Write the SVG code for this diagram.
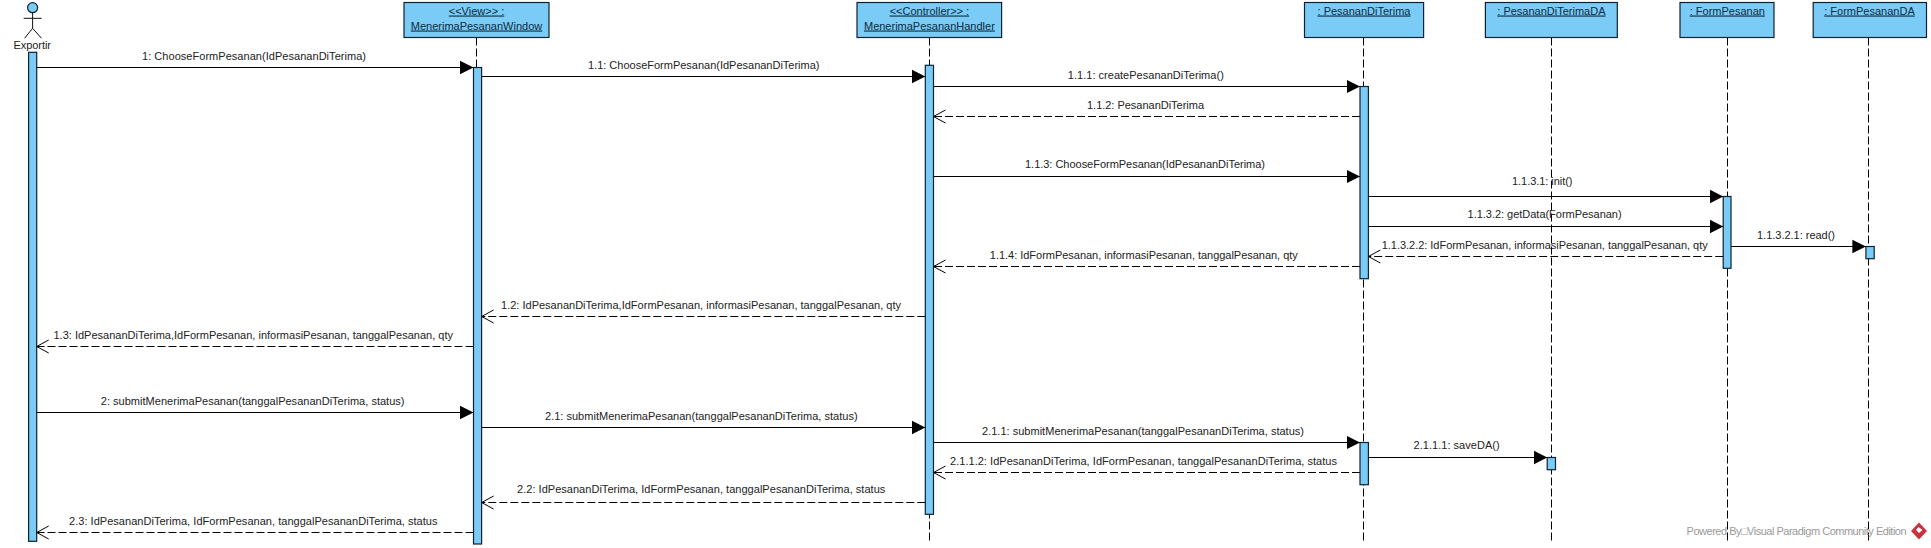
<svg xmlns="http://www.w3.org/2000/svg" width="1931" height="548" viewBox="0 0 1931 548">
<style>
text{font-family:"Liberation Sans",Arial,sans-serif;font-size:11px;fill:#222}
.hd{fill:#0e2a3c;text-decoration:underline;text-anchor:middle}
.box,.act{fill:#7accf6;stroke:#0c2233;stroke-width:1.2}
.life{stroke:#000;stroke-width:1;stroke-dasharray:8 3;fill:none}
.msg{stroke:#000;stroke-width:1;fill:none;marker-end:url(#solid)}
.ret{stroke:#000;stroke-width:1;fill:none;stroke-dasharray:8 3;marker-end:url(#open)}
.wm{fill:#9a9a9a}
</style>
<defs>
<marker id="solid" markerUnits="userSpaceOnUse" markerWidth="14" markerHeight="15" refX="13.500" refY="7.500" orient="auto"><path d="M0 .7L13.500 7.500L0 14.300z" fill="#000"/></marker>
<marker id="open" markerUnits="userSpaceOnUse" markerWidth="14" markerHeight="16" refX="12.500" refY="8" orient="auto"><path d="M.5 1.500L12.500 8L.5 14.500" fill="none" stroke="#000" stroke-width="1"/></marker>
</defs>
<rect width="1931" height="548" fill="#fff"/>
<g id="node-exportir">
<circle cx="32.600" cy="7.700" r="5" class="box"/>
<path d="M32.600 12.700V28.300M23.700 18.300H41.600M24.500 38.300L32.600 28.300L41.500 38.300" fill="none" stroke="#111" stroke-width="1"/>
<text x="13.500" y="49" textLength="37.500">Exportir</text>
<rect x="28.600" y="52.300" width="8.100" height="489" class="act"/>
</g>
<g id="node-view">
<line x1="476.500" y1="37.500" x2="476.500" y2="67" class="life"/>
<rect x="404" y="2.500" width="145" height="35" class="box"/>
<text x="476.500" y="14.500" class="hd">&lt;&lt;View&gt;&gt; :</text>
<text x="476.500" y="29.500" class="hd">MenerimaPesananWindow</text>
<rect x="473.500" y="67.500" width="8.100" height="476.500" class="act"/>
</g>
<g id="node-controller">
<line x1="929.500" y1="37.500" x2="929.500" y2="541" class="life"/>
<rect x="857" y="2.500" width="144.600" height="35" class="box"/>
<text x="929.400" y="14.500" class="hd">&lt;&lt;Controller&gt;&gt; :</text>
<text x="929.400" y="29.500" class="hd">MenerimaPesananHandler</text>
<rect x="925.300" y="65.300" width="8.200" height="449" class="act"/>
</g>
<g id="node-pesananditerima">
<line x1="1363.500" y1="37.500" x2="1363.500" y2="541" class="life"/>
<rect x="1304.500" y="2.500" width="119.100" height="35" class="box"/>
<text x="1364" y="14.500" class="hd">: PesananDiTerima</text>
<rect x="1360" y="86.500" width="8.400" height="192.200" class="act"/>
<rect x="1360" y="442.500" width="8.400" height="42.200" class="act"/>
</g>
<g id="node-pesananditerimada">
<line x1="1551.500" y1="37.500" x2="1551.500" y2="541" class="life"/>
<rect x="1485.400" y="2.500" width="131.900" height="35" class="box"/>
<text x="1551.400" y="14.500" class="hd">: PesananDiTerimaDA</text>
<rect x="1547.200" y="457.500" width="8.300" height="12.200" class="act"/>
</g>
<g id="node-formpesanan">
<line x1="1727.500" y1="37.500" x2="1727.500" y2="541" class="life"/>
<rect x="1680" y="2.500" width="94" height="35" class="box"/>
<text x="1727.300" y="14.500" class="hd">: FormPesanan</text>
<rect x="1723.200" y="196.500" width="7.800" height="71.800" class="act"/>
</g>
<g id="node-formpesananda">
<line x1="1868.500" y1="37.500" x2="1868.500" y2="541" class="life"/>
<rect x="1813.200" y="2.500" width="113.300" height="35" class="box"/>
<text x="1869.500" y="14.500" class="hd">: FormPesananDA</text>
<rect x="1865.900" y="246.500" width="8.300" height="12.200" class="act"/>
</g>
<g id="connectors">
<line x1="36.700" y1="67.500" x2="473.500" y2="67.500" class="msg"/>
<line x1="481.600" y1="76.500" x2="925.300" y2="76.500" class="msg"/>
<line x1="933.500" y1="86.500" x2="1360" y2="86.500" class="msg"/>
<line x1="1360" y1="116.500" x2="933.500" y2="116.500" class="ret"/>
<line x1="933.500" y1="176.500" x2="1360" y2="176.500" class="msg"/>
<line x1="1368.400" y1="196.500" x2="1723.200" y2="196.500" class="msg"/>
<line x1="1368.400" y1="226.500" x2="1723.200" y2="226.500" class="msg"/>
<line x1="1731" y1="246.500" x2="1865.900" y2="246.500" class="msg"/>
<line x1="1723.200" y1="256.500" x2="1368.400" y2="256.500" class="ret"/>
<line x1="1360" y1="266.500" x2="933.500" y2="266.500" class="ret"/>
<line x1="925.300" y1="316.500" x2="481.600" y2="316.500" class="ret"/>
<line x1="473.500" y1="346.500" x2="36.700" y2="346.500" class="ret"/>
<line x1="36.700" y1="412.500" x2="473.500" y2="412.500" class="msg"/>
<line x1="481.600" y1="427.500" x2="925.300" y2="427.500" class="msg"/>
<line x1="933.500" y1="442.500" x2="1360" y2="442.500" class="msg"/>
<line x1="1368.400" y1="457.500" x2="1547.200" y2="457.500" class="msg"/>
<line x1="1360" y1="472.500" x2="933.500" y2="472.500" class="ret"/>
<line x1="925.300" y1="502.500" x2="481.600" y2="502.500" class="ret"/>
<line x1="473.500" y1="532.500" x2="36.700" y2="532.500" class="ret"/>
</g>
<g id="labels">
<text x="142" y="60" textLength="224">1: ChooseFormPesanan(IdPesananDiTerima)</text>
<text x="588" y="69" textLength="231.500">1.1: ChooseFormPesanan(IdPesananDiTerima)</text>
<text x="1067.800" y="79" textLength="156">1.1.1: createPesananDiTerima()</text>
<text x="1087" y="108.500" textLength="117">1.1.2: PesananDiTerima</text>
<text x="1025" y="168" textLength="240">1.1.3: ChooseFormPesanan(IdPesananDiTerima)</text>
<text x="1512" y="185" textLength="60.500">1.1.3.1: init()</text>
<text x="1467.600" y="217.500" textLength="154">1.1.3.2: getData(FormPesanan)</text>
<text x="1757" y="238.500" textLength="78">1.1.3.2.1: read()</text>
<text x="1381.700" y="248.500" textLength="326">1.1.3.2.2: IdFormPesanan, informasiPesanan, tanggalPesanan, qty</text>
<text x="989.800" y="259" textLength="308">1.1.4: IdFormPesanan, informasiPesanan, tanggalPesanan, qty</text>
<text x="501" y="308.500" textLength="400">1.2: IdPesananDiTerima,IdFormPesanan, informasiPesanan, tanggalPesanan, qty</text>
<text x="53.500" y="338.500" textLength="399.500">1.3: IdPesananDiTerima,IdFormPesanan, informasiPesanan, tanggalPesanan, qty</text>
<text x="100.800" y="404.500" textLength="303.700">2: submitMenerimaPesanan(tanggalPesananDiTerima, status)</text>
<text x="545" y="419.500" textLength="312.600">2.1: submitMenerimaPesanan(tanggalPesananDiTerima, status)</text>
<text x="982" y="434.500" textLength="322">2.1.1: submitMenerimaPesanan(tanggalPesananDiTerima, status)</text>
<text x="1413.600" y="448.500" textLength="86">2.1.1.1: saveDA()</text>
<text x="950" y="464.500" textLength="387">2.1.1.2: IdPesananDiTerima, IdFormPesanan, tanggalPesananDiTerima, status</text>
<text x="517" y="493" textLength="368.300">2.2: IdPesananDiTerima, IdFormPesanan, tanggalPesananDiTerima, status</text>
<text x="69" y="524.500" textLength="368.500">2.3: IdPesananDiTerima, IdFormPesanan, tanggalPesananDiTerima, status</text>
<text x="1686.600" y="535.300" textLength="220" class="wm">Powered By□Visual Paradigm Community Edition</text>
</g>
<g id="logo">
<path d="M1919 522.500L1927 531L1919 539.500L1911 531Z" fill="#c8323c"/>
<path d="M1918.500 527L1922.500 530L1919 533L1916 530Z" fill="#fff"/>
</g>
</svg>
